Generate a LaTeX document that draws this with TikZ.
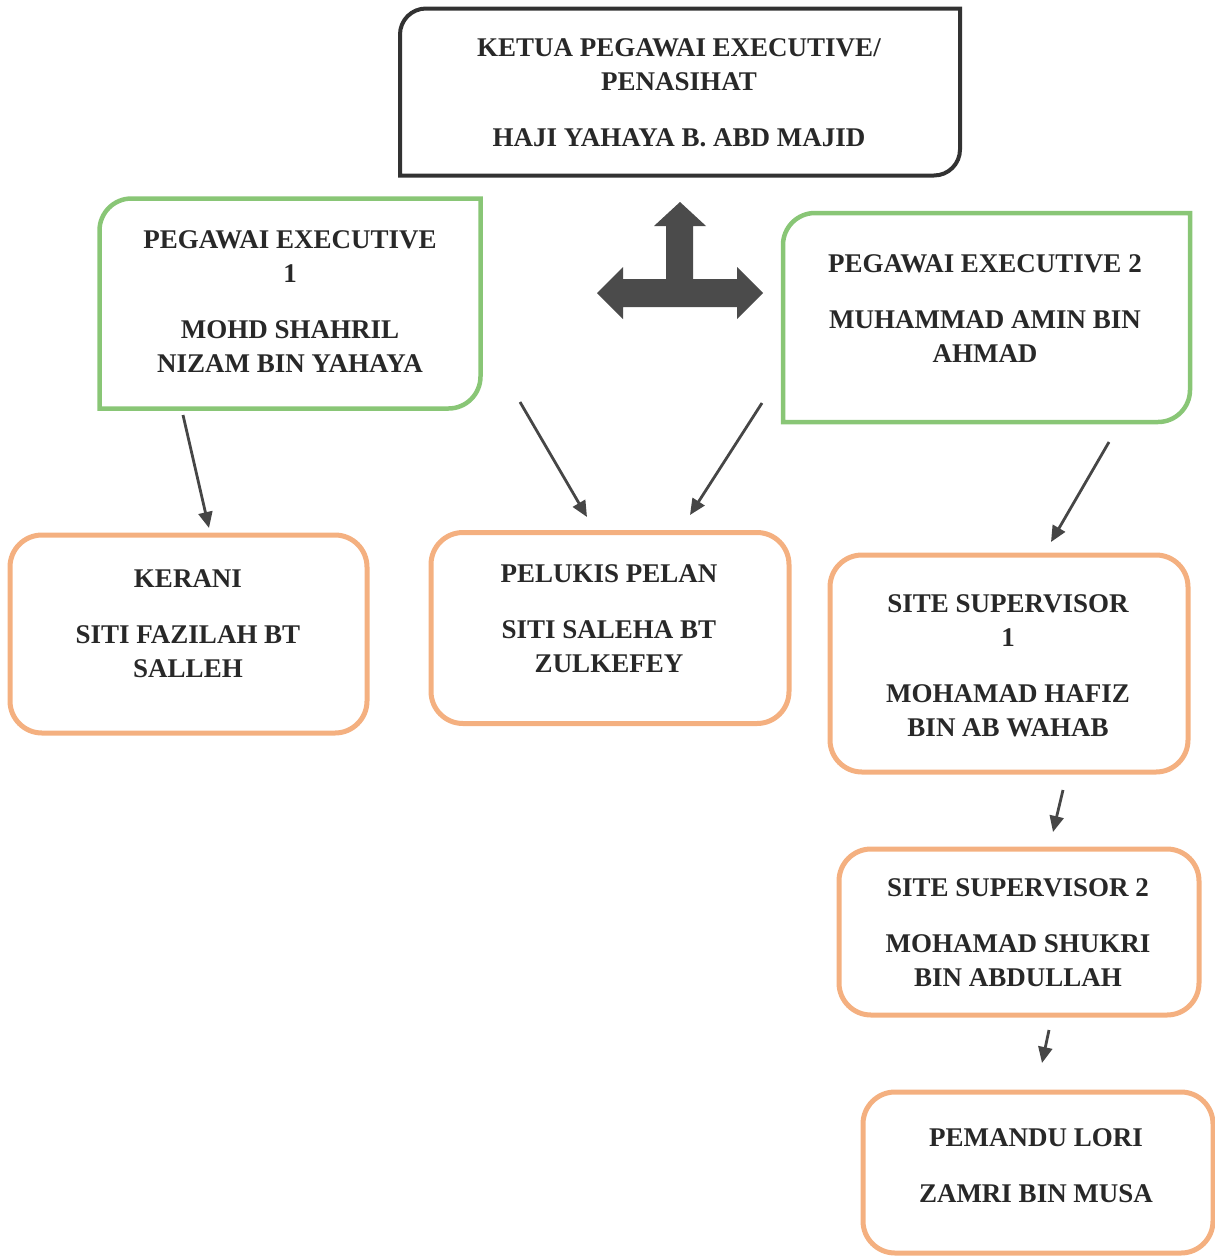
\documentclass[tikz,border=0pt]{standalone}
\usepackage{fontspec}
\setmainfont{Liberation Serif}
\usetikzlibrary{arrows.meta,calc}
\definecolor{ink}{RGB}{40,40,40}
\definecolor{frame}{RGB}{50,50,50}
\definecolor{gframe}{RGB}{137,198,118}
\definecolor{oframe}{RGB}{244,176,128}
\definecolor{arrowgray}{RGB}{70,70,70}
\definecolor{bigarrow}{RGB}{75,75,75}
\begin{document}
\begin{tikzpicture}[x=1pt,y=-1pt,
  txt/.style={font=\bfseries\fontsize{27}{34}\selectfont, text=ink, align=center, inner sep=0pt},
  boxarea/.style={inner sep=0pt, outer sep=0pt, draw=none},
  obox/.style={draw=oframe, line width=5pt, rounded corners=32pt, inner sep=0pt, outer sep=0pt},
  conn/.style={draw=arrowgray, line width=2.8pt, -{Triangle[length=16pt,width=14pt]}},
  diagk/.style={draw=frame, line width=4pt},
  diagg/.style={draw=gframe, line width=4.5pt},
]
\useasboundingbox (0,0) rectangle (1215,1259);

% top box
\node[boxarea, minimum width=560pt, minimum height=167pt] (ceo) at (680,92) {};
\draw[diagk] ([yshift=-26pt]ceo.north west) arc[start angle=180,end angle=90,radius=26pt]
  -- (ceo.north east) -- ([yshift=26pt]ceo.south east) arc[start angle=0,end angle=-90,radius=26pt]
  -- (ceo.south west) -- cycle;
\node[txt] (ceot) at (679,93) {KETUA PEGAWAI EXECUTIVE/\\PENASIHAT\\[22pt]HAJI YAHAYA B. ABD MAJID};

% green boxes
\node[boxarea, minimum width=381pt, minimum height=210pt] (pe1) at (290,303.5) {};
\draw[diagg] ([yshift=-32pt]pe1.north west) arc[start angle=180,end angle=90,radius=32pt]
  -- (pe1.north east) -- ([yshift=32pt]pe1.south east) arc[start angle=0,end angle=-90,radius=32pt]
  -- (pe1.south west) -- cycle;
\node[txt] (pe1t) at (290,302) {PEGAWAI EXECUTIVE\\1\\[22pt]MOHD SHAHRIL\\NIZAM BIN YAHAYA};

\node[boxarea, minimum width=407pt, minimum height=209pt] (pe2) at (986.5,317.5) {};
\draw[diagg] ([yshift=-32pt]pe2.north west) arc[start angle=180,end angle=90,radius=32pt]
  -- (pe2.north east) -- ([yshift=32pt]pe2.south east) arc[start angle=0,end angle=-90,radius=32pt]
  -- (pe2.south west) -- cycle;
\node[txt] (pe2t) at (985,308.5) {PEGAWAI EXECUTIVE 2\\[22pt]MUHAMMAD AMIN BIN\\AHMAD};

% three-way arrow
\fill[bigarrow] (680,202) -- (706,226) -- (693,226) -- (693,279) -- (737,279) -- (737,267)
  -- (763,293) -- (737,319) -- (737,307) -- (623,307) -- (623,319) -- (597,293) -- (623,267)
  -- (623,279) -- (666,279) -- (666,226) -- (654,226) -- cycle;

% orange boxes
\node[obox, minimum width=357pt, minimum height=198pt] (ker) at (188.5,634) {};
\node[txt] (kert) at (188,623.5) {KERANI\\[22pt]SITI FAZILAH BT\\SALLEH};

\node[obox, minimum width=358pt, minimum height=191pt] (pel) at (610,628) {};
\node[txt] (pelt) at (609,619) {PELUKIS PELAN\\[22pt]SITI SALEHA BT\\ZULKEFEY};

\node[obox, minimum width=358pt, minimum height=217pt] (ss1) at (1009,663.5) {};
\node[txt] (ss1t) at (1008,666) {SITE SUPERVISOR\\1\\[22pt]MOHAMAD HAFIZ\\BIN AB WAHAB};

\node[obox, minimum width=360pt, minimum height=166pt] (ss2) at (1019,932) {};
\node[txt] (ss2t) at (1018,933) {SITE SUPERVISOR 2\\[22pt]MOHAMAD SHUKRI\\BIN ABDULLAH};

\node[obox, minimum width=350pt, minimum height=161pt] (lori) at (1038,1172.5) {};
\node[txt] (lorit) at (1036,1165.5) {PEMANDU LORI\\[22pt]ZAMRI BIN MUSA};

% connectors
\coordinate (a1s) at (183,415); \coordinate (a1e) at (209,528);
\coordinate (a2s) at (520,402); \coordinate (a2e) at (587,517);
\coordinate (a3s) at (762,403); \coordinate (a3e) at (690,515);
\coordinate (a4s) at (1109,442); \coordinate (a4e) at (1051,542);
\coordinate (a5s) at (1063,790); \coordinate (a5e) at (1053,832);
\coordinate (a6s) at (1049,1030); \coordinate (a6e) at (1042,1063);
\draw[conn] (a1s) -- (a1e);
\draw[conn] (a2s) -- (a2e);
\draw[conn] (a3s) -- (a3e);
\draw[conn] (a4s) -- (a4e);
\draw[conn] (a5s) -- (a5e);
\draw[conn] (a6s) -- (a6e);
\end{tikzpicture}
\end{document}
